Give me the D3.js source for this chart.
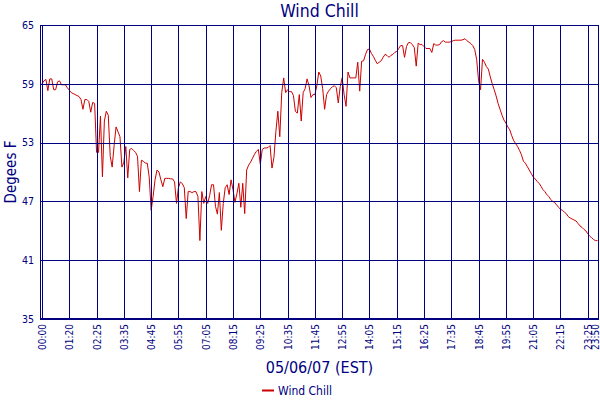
<!DOCTYPE html>
<html>
<head>
<meta charset="utf-8">
<script src="https://cdn.jsdelivr.net/npm/d3@7"></script>
<style>
  html, body { margin: 0; padding: 0; background: #ffffff; }
  svg { display: block; }
  text { font-family: "DejaVu Sans Condensed", "DejaVu Sans", sans-serif; font-stretch: condensed; fill: #000080; }
</style>
</head>
<body>
<svg id="chart" width="600" height="400"></svg>
<script>
// ---- data ----
const chartTitle = "Wind Chill";
const yAxisTitle = "Degees F";
const xAxisTitle = "05/06/07 (EST)";
const seriesName = "Wind Chill";

const yTicks = [35, 41, 47, 53, 59, 65];
const xTickIndex = [0, 14, 28, 42, 56, 70, 84, 98, 112, 126, 140, 154, 168, 182, 196, 210, 224, 238, 252, 266, 280, 285];
const xTickLabels = ["00:00", "01:20", "02:25", "03:35", "04:45", "05:55", "07:05", "08:15", "09:25", "10:35", "11:45",
                     "12:55", "14:05", "15:15", "16:25", "17:35", "18:45", "19:55", "21:05", "22:15", "23:25", "23:50"];

const windChill = [
  59.0, 59.3, 59.45, 58.3, 59.5, 59.5, 58.4, 58.4, 59.2, 59.3,
  58.9, 58.9, 58.9, 58.6, 58.35, 58.1, 58.0, 57.9, 57.8, 57.7,
  57.4, 56.4, 57.4, 57.4, 57.2, 56.1, 57.1, 57.0, 52.0, 52.0,
  55.7, 49.5, 55.2, 56.2, 55.8, 51.6, 50.5, 52.7, 54.6, 54.1,
  53.6, 50.5, 51.0, 52.6, 49.4, 52.3, 52.4, 52.2, 52.0, 51.6,
  48.0, 51.2, 51.1, 50.9, 50.9, 49.5, 46.1, 47.5, 49.2, 50.2,
  50.0, 49.2, 48.5, 49.35, 49.35, 49.35, 49.3, 49.3, 49.0, 46.8,
  48.4, 49.0, 48.8, 48.4, 45.25, 48.0, 48.0, 47.9, 48.0, 48.0,
  47.5, 43.0, 48.0, 46.8, 47.5, 46.8, 47.6, 48.7, 48.7, 46.5,
  45.7, 47.9, 44.05, 46.8, 48.4, 48.7, 47.7, 49.2, 48.2, 46.9,
  47.8, 48.85, 46.4, 48.85, 45.75, 50.2, 50.7, 51.0, 51.4, 51.8,
  52.1, 52.3, 50.8, 52.3, 52.45, 52.45, 52.5, 52.7, 50.4, 51.5,
  54.15, 56.2, 53.6, 58.1, 59.6, 58.1, 58.4, 58.2, 58.2, 57.8,
  56.2, 56.0, 57.9, 55.2, 58.1, 58.5, 59.5, 58.8, 57.6, 57.9,
  57.9, 58.8, 60.2, 59.8, 58.5, 56.4, 57.9, 58.25, 58.5, 58.7,
  58.8, 58.6, 57.05, 58.7, 59.6, 57.9, 56.7, 60.2, 59.6, 59.6,
  59.6, 59.6, 61.2, 58.25, 61.3, 61.35, 62.0, 62.5, 62.55, 62.1,
  61.8, 61.4, 61.05, 61.2, 61.35, 61.7, 62.0, 61.9, 61.7, 61.9,
  62.0, 62.2, 62.3, 62.6, 62.9, 62.9, 61.7, 62.8, 63.2, 63.2,
  63.0, 62.7, 60.8, 63.15, 63.0, 63.0, 62.8, 62.6, 62.6, 62.6,
  62.2, 63.1, 62.95, 62.95, 63.0, 63.3, 63.4, 63.25, 63.25, 63.25,
  63.3, 63.4, 63.45, 63.45, 63.45, 63.45, 63.5, 63.6, 63.4, 63.25,
  63.1, 62.9, 62.5, 61.5, 59.3, 58.4, 61.5, 61.2, 60.75, 60.5,
  59.7, 59.0, 58.4, 57.75, 57.0, 56.4, 55.8, 55.3, 55.0, 54.6,
  54.3, 53.7, 53.2, 52.9, 52.6, 52.2, 51.75, 51.1, 50.9, 50.55,
  50.2, 49.85, 49.5, 49.3, 49.05, 48.85, 48.55, 48.2, 48.0, 47.7,
  47.5, 47.2, 47.0, 46.9, 46.65, 46.4, 46.2, 46.1, 45.9, 45.75,
  45.45, 45.3, 45.2, 45.1, 45.0, 44.75, 44.5, 44.35, 44.15, 44.0,
  43.7, 43.45, 43.3, 43.1, 43.0, 43.0
];

// ---- layout ----
const navy = "#000080";
const red = "#cc0000";
const plot = { left: 40, right: 599, top: 25, bottom: 319 };

const svg = d3.select("#chart");

const x = d3.scaleLinear().domain([0, windChill.length - 1]).range([42, 597.5]);
const y = d3.scaleLinear().domain([35, 65]).range([plot.bottom, plot.top]);

// data line (drawn beneath the grid, as in the original)
const line = d3.line()
  .x((d, i) => x(i))
  .y(d => y(d));

svg.append("path")
  .datum(windChill)
  .attr("d", line)
  .attr("fill", "none")
  .attr("stroke", red)
  .attr("stroke-width", 1)
  .attr("stroke-linejoin", "miter");

// plot border
svg.append("rect")
  .attr("x", plot.left + 0.5)
  .attr("y", plot.top + 0.5)
  .attr("width", plot.right - plot.left - 1)
  .attr("height", plot.bottom - plot.top - 1)
  .attr("fill", "none")
  .attr("stroke", navy)
  .attr("stroke-width", 1);

// y grid + labels
const yAxis = d3.axisLeft(y).tickValues(yTicks).tickSize(0).tickPadding(0).tickFormat(d3.format("d"));
const gy = svg.append("g").attr("transform", `translate(${plot.left},0)`).call(yAxis);
gy.select(".domain").remove();
gy.selectAll(".tick text")
  .attr("x", -6)
  .attr("dy", "0.32em")
  .style("font-size", "10.5px")
  .attr("fill", navy);

svg.append("g")
  .selectAll("line")
  .data(yTicks)
  .join("line")
  .attr("x1", plot.left)
  .attr("x2", plot.right)
  .attr("y1", d => Math.round(y(d)) + 0.5)
  .attr("y2", d => Math.round(y(d)) + 0.5)
  .attr("stroke", navy)
  .attr("stroke-width", 1);

// x grid + labels
svg.append("g")
  .selectAll("line")
  .data(xTickIndex)
  .join("line")
  .attr("x1", d => Math.round(x(d)) + 0.5)
  .attr("x2", d => Math.round(x(d)) + 0.5)
  .attr("y1", plot.top)
  .attr("y2", plot.bottom)
  .attr("stroke", navy)
  .attr("stroke-width", 1);

const xAxis = d3.axisBottom(x).tickValues(xTickIndex).tickSize(0)
  .tickFormat((d, i) => xTickLabels[i]);
const gx = svg.append("g").attr("transform", `translate(0,${plot.bottom})`).call(xAxis);
gx.select(".domain").remove();
gx.selectAll(".tick text")
  .attr("transform", "rotate(-90)")
  .attr("x", -5)
  .attr("y", 0)
  .attr("dy", (d, i) => i === xTickIndex.length - 1 ? "0.1em" : "0.35em")
  .attr("text-anchor", "end")
  .style("font-size", "10px")
  .attr("fill", navy);

// titles
svg.append("text")
  .attr("x", (plot.left + plot.right) / 2)
  .attr("y", 17)
  .attr("text-anchor", "middle")
  .style("font-size", "17.5px")
  .text(chartTitle);

svg.append("text")
  .attr("transform", `translate(16,${(plot.top + plot.bottom) / 2}) rotate(-90)`)
  .attr("text-anchor", "middle")
  .style("font-size", "15px")
  .text(yAxisTitle);

svg.append("text")
  .attr("x", (plot.left + plot.right) / 2)
  .attr("y", 373)
  .attr("text-anchor", "middle")
  .style("font-size", "16px")
  .text(xAxisTitle);

// legend
const legend = svg.append("g").attr("transform", "translate(262,390)");
legend.append("line")
  .attr("x1", 0).attr("x2", 12)
  .attr("y1", 0.5).attr("y2", 0.5)
  .attr("stroke", red)
  .attr("stroke-width", 2);
legend.append("text")
  .attr("x", 16)
  .attr("y", 4.5)
  .style("font-size", "12px")
  .text(seriesName);
</script>
</body>
</html>
